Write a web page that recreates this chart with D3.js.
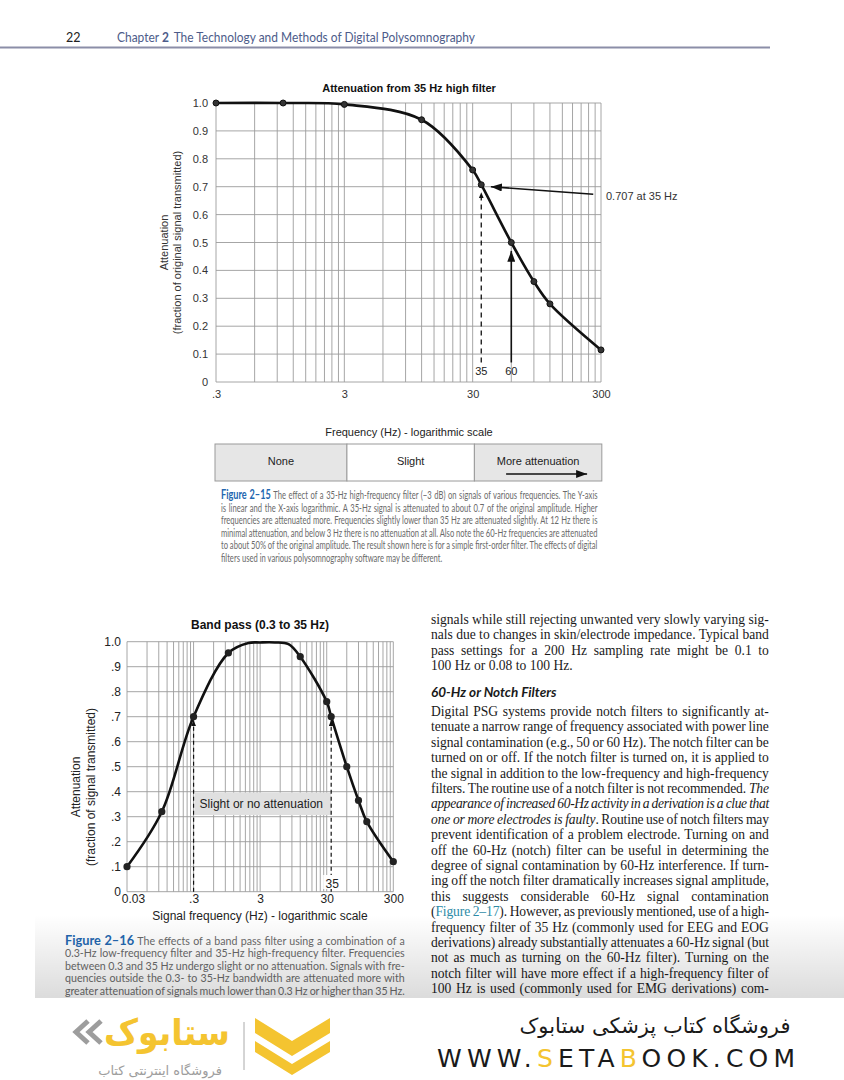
<!DOCTYPE html>
<html><head><meta charset="utf-8">
<script src="https://cdn.jsdelivr.net/npm/d3@7"></script>
<style>body{margin:0;background:#fff}svg{display:block}</style>
</head><body>
<svg id="c" width="844" height="1080"></svg>
<script>
// ---------------- DATA ----------------
// Figure 2-15: attenuation of a 35 Hz high filter
const hfFreq  = [0.3, 1, 3, 12, 30, 35, 60, 90, 120, 300];
const hfAtten = [1.0, 1.0, 0.995, 0.94, 0.76, 0.707, 0.50, 0.36, 0.28, 0.115];
const hfXTicks = [0.3, 3, 30, 300];
const hfXLabels = [".3", "3", "30", "300"];
const yTickValues = [0, 0.1, 0.2, 0.3, 0.4, 0.5, 0.6, 0.7, 0.8, 0.9, 1.0];
const hfYLabels = ["0", "0.1", "0.2", "0.3", "0.4", "0.5", "0.6", "0.7", "0.8", "0.9", "1.0"];
const zoneNames = ["None", "Slight", "More attenuation"];
const zoneEdges = [0.3, 3.2, 31.5, 310];

// Figure 2-16: band pass 0.3 to 35 Hz
const bpFreq  = [0.03, 0.1, 0.3, 1, 12, 30, 35, 60, 90, 120, 300];
const bpAtten = [0.10, 0.32, 0.70, 0.955, 0.94, 0.76, 0.70, 0.50, 0.365, 0.28, 0.12];
const bpPlateauFreq  = [2, 3, 5, 8];          // unmarked points
const bpPlateauAtten = [0.995, 0.997, 0.997, 0.99];
const bpXTicks = [0.03, 0.3, 3, 30, 300];
const bpXLabels = ["0.03", ".3", "3", "30", "300"];
const bpYLabels = ["0", ".1", ".2", ".3", ".4", ".5", ".6", ".7", ".8", ".9", "1.0"];

// Page text
const headerText = ["Chapter ", "2", "The Technology and Methods of Digital Polysomnography"];
const caption15 = [
  "{Figure 2–15} The effect of a 35-Hz high-frequency filter (−3 dB) on signals of various frequencies. The Y-axis",
  "is linear and the X-axis logarithmic. A 35-Hz signal is attenuated to about 0.7 of the original amplitude. Higher",
  "frequencies are attenuated more. Frequencies slightly lower than 35 Hz are attenuated slightly. At 12 Hz there is",
  "minimal attenuation, and below 3 Hz there is no attenuation at all. Also note the 60-Hz frequencies are attenuated",
  "to about 50% of the original amplitude. The result shown here is for a simple first-order filter. The effects of digital",
  "filters used in various polysomnography software may be different.|"
];
const caption16 = [
  "{Figure 2–16} The effects of a band pass filter using a combination of a",
  "0.3-Hz low-frequency filter and 35-Hz high-frequency filter. Frequencies",
  "between 0.3 and 35 Hz undergo slight or no attenuation. Signals with fre-",
  "quencies outside the 0.3- to 35-Hz bandwidth are attenuated more with",
  "greater attenuation of signals much lower than 0.3 Hz or higher than 35 Hz."
];
const bodyPara1 = [
  "signals while still rejecting unwanted very slowly varying sig-",
  "nals due to changes in skin/electrode impedance. Typical band",
  "pass settings for a 200 Hz sampling rate might be 0.1 to",
  "100 Hz or 0.08 to 100 Hz.|"
];
const bodyHeading = "60-Hz or Notch Filters";
const bodyPara2 = [
  "Digital PSG systems provide notch filters to significantly at-",
  "tenuate a narrow range of frequency associated with power line",
  "signal contamination (e.g., 50 or 60 Hz). The notch filter can be",
  "turned on or off. If the notch filter is turned on, it is applied to",
  "the signal in addition to the low-frequency and high-frequency",
  "filters. The routine use of a notch filter is not recommended.* The*",
  "*appearance of increased 60-Hz activity in a derivation is a clue that*",
  "*one or more electrodes is faulty*. Routine use of notch filters may",
  "prevent identification of a problem electrode. Turning on and",
  "off the 60-Hz (notch) filter can be useful in determining the",
  "degree of signal contamination by 60-Hz interference. If turn-",
  "ing off the notch filter dramatically increases signal amplitude,",
  "this suggests considerable 60-Hz signal contamination",
  "([Figure 2–17]). However, as previously mentioned, use of a high-",
  "frequency filter of 35 Hz (commonly used for EEG and EOG",
  "derivations) already substantially attenuates a 60-Hz signal (but",
  "not as much as turning on the 60-Hz filter). Turning on the",
  "notch filter will have more effect if a high-frequency filter of",
  "100 Hz is used (commonly used for EMG derivations) com-"
];
const shopNameFa = "فروشگاه کتاب پزشکی ستابوک";
const shopTagFa = "فروشگاه اینترنتی کتاب";
const shopLogoFa = "ستابوک";
const shopUrlParts = ["WWW.", "S", "ETA", "B", "OOK.COM"];

// ---------------- DRAW ----------------
const svg = d3.select("#c");
const defs = svg.append("defs");
function arrowMarker(id, len, wid) {
  defs.append("marker").attr("id", id)
    .attr("viewBox", `0 0 ${len} ${wid}`).attr("refX", len).attr("refY", wid / 2)
    .attr("markerWidth", len).attr("markerHeight", wid)
    .attr("markerUnits", "userSpaceOnUse").attr("orient", "auto")
    .append("path").attr("d", `M0,0L${len},${wid / 2}L0,${wid}Z`).attr("fill", "#111");
}
arrowMarker("ahBig", 11, 8);
arrowMarker("ahSmall", 6, 5);
const grad = defs.append("linearGradient").attr("id", "fade").attr("x1", 0).attr("x2", 0).attr("y1", 0).attr("y2", 1);
grad.append("stop").attr("offset", 0).attr("stop-color", "#000").attr("stop-opacity", 0);
grad.append("stop").attr("offset", 1).attr("stop-color", "#000").attr("stop-opacity", 0.14);

function logGridValues(lo, hi) {
  const v = [];
  for (let b = lo; b < hi * 0.999; b *= 10) for (let k = 1; k < 10; k++) v.push(b * k);
  v.push(hi);
  return v;
}
const SANS = "'Liberation Sans', Arial, sans-serif";

function drawGrid(g, x, y, lo, hi) {
  g.append("g").selectAll("line").data(logGridValues(lo, hi)).join("line")
    .attr("x1", d => x(d)).attr("x2", d => x(d)).attr("y1", y(0)).attr("y2", y(1))
    .attr("stroke", "#9c9c9c").attr("stroke-width", 0.9);
  g.append("g").selectAll("line").data(yTickValues).join("line")
    .attr("x1", x(lo)).attr("x2", x(hi)).attr("y1", d => y(d)).attr("y2", d => y(d))
    .attr("stroke", "#9c9c9c").attr("stroke-width", 0.9);
}

// ===== Figure 2-15 =====
{
  const g = svg.append("g").attr("font-family", SANS).attr("fill", "#222");
  const x = d3.scaleLog().domain([0.3, 300]).range([216, 601]);
  const y = d3.scaleLinear().domain([0, 1]).range([382, 103]);
  drawGrid(g, x, y, 0.3, 300);

  const yAx = g.append("g").attr("transform", `translate(${x(0.3)},0)`)
    .call(d3.axisLeft(y).tickValues(yTickValues).tickFormat((d, i) => hfYLabels[i]).tickSize(0).tickPadding(8));
  yAx.select(".domain").remove();
  yAx.selectAll("text").attr("font-size", 11).attr("fill", "#333").attr("font-family", SANS);
  const xAx = g.append("g").attr("transform", `translate(0,${y(0)})`)
    .call(d3.axisBottom(x).tickValues(hfXTicks).tickFormat((d, i) => hfXLabels[i]).tickSize(0).tickPadding(8));
  xAx.select(".domain").remove();
  xAx.selectAll("text").attr("font-size", 11).attr("fill", "#333").attr("font-family", SANS);

  g.append("text").attr("x", 409).attr("y", 92).attr("text-anchor", "middle")
    .attr("font-size", 11).attr("font-weight", "bold").attr("fill", "#111").text("Attenuation from 35 Hz high filter");
  const yt = g.append("text").attr("transform", `translate(0,${(y(0) + y(1)) / 2}) rotate(-90)`)
    .attr("text-anchor", "middle").attr("font-size", 11).attr("fill", "#333");
  yt.append("tspan").attr("x", 0).attr("y", 168).text("Attenuation");
  yt.append("tspan").attr("x", 0).attr("y", 181).text("(fraction of original signal transmitted)");
  g.append("text").attr("x", 409).attr("y", 436).attr("text-anchor", "middle")
    .attr("font-size", 11).attr("fill", "#222").text("Frequency (Hz) - logarithmic scale");

  // zone bar
  const zones = zoneNames.map((n, i) => ({ n, a: zoneEdges[i], b: zoneEdges[i + 1], i }));
  const zg = g.append("g");
  zg.selectAll("rect").data(zones).join("rect")
    .attr("x", d => x(d.a) - 1).attr("width", d => x(d.b) - x(d.a))
    .attr("y", 444).attr("height", 37)
    .attr("fill", d => d.i === 1 ? "#fff" : "#e6e6e6").attr("stroke", "#9a9a9a").attr("stroke-width", 1);
  zg.selectAll("text").data(zones).join("text")
    .attr("x", d => (x(d.a) + x(d.b)) / 2 - 1).attr("y", 465)
    .attr("text-anchor", "middle").attr("font-size", 11).attr("fill", "#222").text(d => d.n);
  const lz = zones[2], cx = (x(lz.a) + x(lz.b)) / 2;
  zg.append("line").attr("x1", cx - 33).attr("x2", cx + 48).attr("y1", 474).attr("y2", 474)
    .attr("stroke", "#111").attr("stroke-width", 1.5).attr("marker-end", "url(#ahBig)");

  // curve + markers
  const pts = hfFreq.map((f, i) => ({ f, a: hfAtten[i] }));
  const line = d3.line().x(d => x(d.f)).y(d => y(d.a)).curve(d3.curveCatmullRom.alpha(0.5));
  g.append("path").attr("d", line(pts)).attr("fill", "none").attr("stroke", "#111").attr("stroke-width", 2.6);
  g.append("g").selectAll("circle").data(pts).join("circle")
    .attr("cx", d => x(d.f)).attr("cy", d => y(d.a)).attr("r", 3)
    .attr("fill", "#333").attr("stroke", "#111").attr("stroke-width", 1);

  // annotations
  g.append("line").attr("x1", x(35)).attr("x2", x(35)).attr("y1", y(0.07)).attr("y2", y(0.68))
    .attr("stroke", "#111").attr("stroke-width", 1.3).attr("stroke-dasharray", "5,4").attr("marker-end", "url(#ahSmall)");
  g.append("line").attr("x1", x(60)).attr("x2", x(60)).attr("y1", y(0.07)).attr("y2", y(0.47))
    .attr("stroke", "#111").attr("stroke-width", 1.6).attr("marker-end", "url(#ahBig)");
  g.append("text").attr("x", x(35)).attr("y", 375).attr("text-anchor", "middle").attr("font-size", 11).text("35");
  g.append("text").attr("x", x(60)).attr("y", 375).attr("text-anchor", "middle").attr("font-size", 11).text("60");
  g.append("line").attr("x1", x(261)).attr("y1", y(0.673)).attr("x2", x(41.6)).attr("y2", y(0.70))
    .attr("stroke", "#111").attr("stroke-width", 1.6).attr("marker-end", "url(#ahBig)");
  g.append("text").attr("x", x(300) + 5).attr("y", 200).attr("font-size", 11).attr("fill", "#333").text("0.707 at 35 Hz");
}

// ===== Figure 2-16 =====
{
  const g = svg.append("g").attr("font-family", SANS).attr("fill", "#222");
  const x = d3.scaleLog().domain([0.03, 300]).range([127, 393.3]);
  const y = d3.scaleLinear().domain([0, 1]).range([891.7, 641.7]);
  drawGrid(g, x, y, 0.03, 300);

  const yAx = g.append("g").attr("transform", `translate(${x(0.03)},0)`)
    .call(d3.axisLeft(y).tickValues(yTickValues).tickFormat((d, i) => bpYLabels[i]).tickSize(0).tickPadding(6));
  yAx.select(".domain").remove();
  yAx.selectAll("text").attr("font-size", 12).attr("fill", "#222").attr("font-family", SANS);
  const xAx = g.append("g").attr("transform", `translate(0,${y(0)})`)
    .call(d3.axisBottom(x).tickValues(bpXTicks).tickFormat((d, i) => bpXLabels[i]).tickSize(0).tickPadding(3));
  xAx.select(".domain").remove();
  xAx.selectAll("text").attr("font-size", 12).attr("fill", "#222").attr("font-family", SANS)
    .attr("dx", (d, i) => i === 0 ? 6 : 0);

  g.append("text").attr("x", 260).attr("y", 629).attr("text-anchor", "middle")
    .attr("font-size", 12).attr("font-weight", "bold").attr("fill", "#111").text("Band pass (0.3 to 35 Hz)");
  const yt = g.append("text").attr("transform", `translate(0,${787}) rotate(-90)`)
    .attr("text-anchor", "middle").attr("font-size", 12).attr("fill", "#222");
  yt.append("tspan").attr("x", 0).attr("y", 79.5).text("Attenuation");
  yt.append("tspan").attr("x", 0).attr("y", 94.5).text("(fraction of signal transmitted)");
  g.append("text").attr("x", 260).attr("y", 920).attr("text-anchor", "middle")
    .attr("font-size", 12).text("Signal frequency (Hz) - logarithmic scale");

  // label box
  g.append("rect").attr("x", x(0.3) + 1).attr("width", x(35) - x(0.3) - 1).attr("y", 792.5).attr("height", 22.5)
    .attr("fill", "#e0e0e0");
  g.append("text").attr("x", x(0.3) + 6).attr("y", 807.5).attr("font-size", 12).attr("fill", "#222")
    .text("Slight or no attenuation");

  // dashed arrows
  [0.3, 35].forEach(f => {
    g.append("line").attr("x1", x(f)).attr("x2", x(f)).attr("y1", y(0)).attr("y2", y(0.686))
      .attr("stroke", "#111").attr("stroke-width", 1.2).attr("stroke-dasharray", "4,3").attr("marker-end", "url(#ahSmall)");
  });
  g.append("rect").attr("x", x(35) - 8).attr("y", 875).attr("width", 17).attr("height", 14).attr("fill", "#fff");
  g.append("text").attr("x", x(35) + 1).attr("y", 887.5).attr("text-anchor", "middle").attr("font-size", 12).text("35");

  const marked = bpFreq.map((f, i) => ({ f, a: bpAtten[i] }));
  const extra = bpPlateauFreq.map((f, i) => ({ f, a: bpPlateauAtten[i] }));
  const all = marked.concat(extra).sort((a, b) => a.f - b.f);
  const line = d3.line().x(d => x(d.f)).y(d => y(d.a)).curve(d3.curveCatmullRom.alpha(0.5));
  g.append("path").attr("d", line(all)).attr("fill", "none").attr("stroke", "#111").attr("stroke-width", 2.6);
  g.append("g").selectAll("circle").data(marked).join("circle")
    .attr("cx", d => x(d.f)).attr("cy", d => y(d.a)).attr("r", 3.6).attr("fill", "#222");
}

// ===== Text blocks (each styled run is its own text element) =====
function parseSegs(str) {
  const re = /(\{[^}]*\}|\*[^*]*\*|\[[^\]]*\])/;
  return str.split(re).filter(s => s.length).map(s => {
    if (s[0] === "{") return { t: s.slice(1, -1), kind: "bold" };
    if (s[0] === "*") return { t: s.slice(1, -1), kind: "italic" };
    if (s[0] === "[") return { t: s.slice(1, -1), kind: "link" };
    return { t: s, kind: "plain" };
  });
}
function textBlock(lines, x, y0, dy, width, family, size, fill, styles, fixedR) {
  const g = svg.append("g").attr("font-family", family).attr("font-size", size).attr("fill", fill);
  const probe1 = g.append("text").text("a a"), probe2 = g.append("text").text("aa");
  const spaceW = probe1.node().getComputedTextLength() - probe2.node().getComputedTextLength();
  probe1.remove(); probe2.remove();
  const items = lines.map((raw, i) => {
    const last = raw.endsWith("|");
    const s = last ? raw.slice(0, -1) : raw;
    const segs = parseSegs(s).map(sg => {
      const lead = /^ /.test(sg.t), trail = / $/.test(sg.t);
      const txt = sg.t.trim();
      const t = g.append("text").attr("x", 0).attr("y", y0 + i * dy).text(txt);
      if (sg.kind === "bold") styles.bold(t);
      if (sg.kind === "italic") t.attr("font-style", "italic");
      if (sg.kind === "link") t.attr("fill", styles.link);
      const sw = sg.kind === "bold" ? spaceW * 1.3 : spaceW;
      return { t, lead, trail, sw, len: txt.length, w: t.node().getComputedTextLength(), spaces: (txt.match(/ /g) || []).length };
    });
    let w = 0, spaces = 0, chars = 0;
    segs.forEach(sg => {
      w += sg.w + (sg.lead ? spaceW : 0) + (sg.trail ? sg.sw : 0);
      spaces += sg.spaces + (sg.lead ? 1 : 0) + (sg.trail ? 1 : 0);
      chars += sg.len + (sg.lead ? 1 : 0) + (sg.trail ? 1 : 0);
    });
    return { segs, w, spaces, chars, last };
  });
  const ratios = items.filter(d => !d.last).map(d => width / d.w).sort(d3.ascending);
  const r = fixedR || d3.quantile(ratios, 0.35) || 1;
  g.attr("transform", `translate(${x},0) scale(${r},1)`);
  g.attr("data-r", r);
  const W = width / r;
  items.forEach(d => {
    let ws = d.last ? 0 : (W - d.w) / Math.max(1, d.spaces);
    let ls = 0;
    if (!d.last && ws < -0.6) {
      // too long: keep small negative word spacing, absorb the rest with letter spacing
      ws = -0.6;
      ls = (W - d.w - ws * d.spaces) / d.chars;
    }
    let run = 0;
    d.segs.forEach(sg => {
      if (sg.lead) run += spaceW + ws + ls;
      sg.t.attr("x", run).style("word-spacing", ws + "px");
      if (ls) sg.t.style("letter-spacing", ls + "px");
      run += sg.w + ws * sg.spaces + ls * sg.len;
      if (sg.trail) run += sg.sw + ws + ls;
    });
  });
  return g;
}
const CAP = "Lato, 'Open Sans', sans-serif";
const capStyles = { bold: t => t.attr("font-weight", "bold").attr("fill", "#2367b0").attr("font-size", "1.2em") };
textBlock(caption15, 221, 499, 12.6, 377, CAP, 10.6, "#6a6a6a", capStyles);
textBlock(caption16, 65, 945, 12.5, 340, CAP, 10.6, "#6a6a6a", capStyles);

const SERIF = "'Liberation Serif', 'Times New Roman', serif";
const bodyStyles = { bold: t => t.attr("font-weight", "bold"), link: "#2b8aa6" };
const b1 = textBlock(bodyPara1, 431, 624, 15.4, 338, SERIF, 13.6, "#1a1a1a", bodyStyles);
const rBody = +b1.attr("data-r");
svg.append("text").attr("x", 431).attr("y", 697).attr("font-family", CAP).attr("font-size", 13.5)
  .attr("font-weight", "bold").attr("font-style", "italic").attr("fill", "#1a1a1a").text(bodyHeading);
textBlock(bodyPara2, 431, 716, 15.4, 338, SERIF, 13.6, "#1a1a1a", bodyStyles, rBody);

// header
svg.append("text").attr("x", 66).attr("y", 42).attr("font-family", CAP).attr("font-size", 12.5).attr("fill", "#222").text("22");
const ht = svg.append("text").attr("x", 117).attr("y", 42).attr("font-family", CAP).attr("font-size", 12.5).attr("fill", "#4d5c8a");
ht.append("tspan").text(headerText[0]);
ht.append("tspan").attr("font-weight", "bold").text(headerText[1]);
ht.append("tspan").attr("dx", 5).text(headerText[2]);
ht.attr("textLength", 358).attr("lengthAdjust", "spacingAndGlyphs");
svg.append("line").attr("x1", 0).attr("x2", 770).attr("y1", 47.5).attr("y2", 47.5).attr("stroke", "#8b8ea8").attr("stroke-width", 2);

// page fade and cut
svg.append("rect").attr("x", 35).attr("y", 915).attr("width", 809).attr("height", 83).attr("fill", "url(#fade)");
svg.append("rect").attr("x", 0).attr("y", 998).attr("width", 844).attr("height", 82).attr("fill", "#fff");

// ===== shop banner =====
{
  const g = svg.append("g");
  const YEL = "#f4c430", GR = "#9d9d9d";
  [[88, 76], [101, 89]].forEach(([a, b]) => {
    g.append("polyline").attr("points", `${a},1021 ${b},1032 ${a},1043`).attr("fill", "none")
      .attr("stroke", GR).attr("stroke-width", 5).attr("stroke-linejoin", "miter");
  });
  g.append("text").attr("x", 167).attr("y", 1045).attr("text-anchor", "middle").attr("direction", "rtl")
    .attr("font-family", "'DejaVu Sans', sans-serif").attr("font-weight", "bold").attr("font-size", 36)
    .attr("fill", YEL).attr("textLength", 126).attr("lengthAdjust", "spacingAndGlyphs").text(shopLogoFa);
  g.append("text").attr("x", 160).attr("y", 1075).attr("text-anchor", "middle").attr("direction", "rtl")
    .attr("font-family", "'DejaVu Sans', sans-serif").attr("font-size", 13).attr("fill", GR).text(shopTagFa);
  g.append("line").attr("x1", 244).attr("x2", 244).attr("y1", 1022).attr("y2", 1070).attr("stroke", "#aaa").attr("stroke-width", 1);
  g.append("path").attr("d", "M255,1018 L292,1041 L330,1018 L330,1033 L292,1056 L255,1033 Z").attr("fill", YEL);
  g.append("path").attr("d", "M255,1041 L292,1064 L330,1041 L330,1052 L292,1075 L255,1052 Z").attr("fill", YEL);
  g.append("text").attr("x", 655).attr("y", 1033).attr("text-anchor", "middle").attr("direction", "rtl")
    .attr("font-family", "'DejaVu Sans', sans-serif").attr("font-size", 21).attr("fill", "#1a1a1a").text(shopNameFa);
  const u = g.append("text").attr("x", 437).attr("y", 1067).attr("font-family", "'DejaVu Sans', sans-serif")
    .attr("font-size", 25).attr("fill", "#1a1a1a");
  shopUrlParts.forEach((p, i) => u.append("tspan").attr("fill", (i === 1 || i === 3) ? YEL : "#1a1a1a").text(p));
  u.attr("textLength", 358).attr("lengthAdjust", "spacing");
}
</script>
</body></html>
